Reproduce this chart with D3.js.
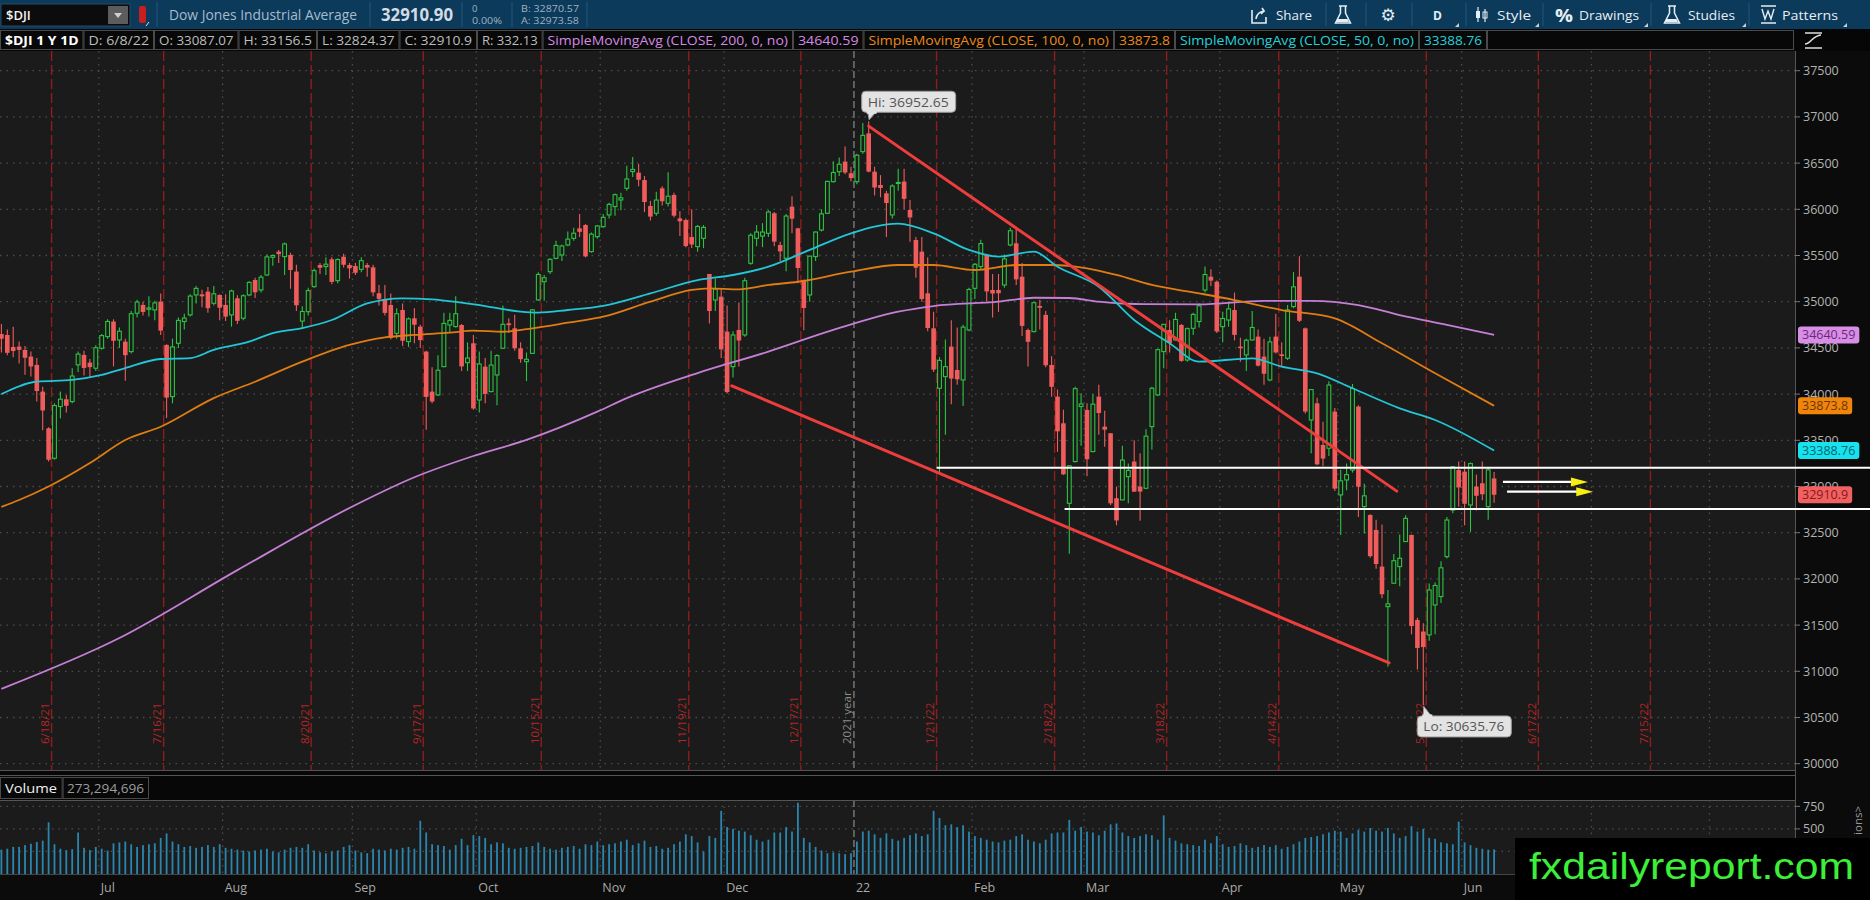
<!DOCTYPE html>
<html>
<head>
<meta charset="utf-8">
<script src="https://cdn.jsdelivr.net/npm/d3@7"></script>
<style>
html, body { margin: 0; padding: 0; background: #0b0b0b; overflow: hidden; }
svg { display: block; font-family: "Open Sans", "DejaVu Sans", sans-serif; }
</style>
</head>
<body>
<svg id="chart" width="1870" height="900"></svg>
<script>
// $DJI daily candles, 6/8/21 .. 6/8/22  [open, high, low, close]
const candles = [
  [34650,34760,34450,34599],[34640,34700,34420,34447],[34510,34730,34400,34466],[34514,34570,34330,34479],
  [34478,34520,34210,34393],[34406,34460,34190,34299],[34316,34390,33920,34033],[34027,34080,33610,33823],
  [33630,33640,33271,33290],[33306,33900,33290,33876],[33865,34027,33738,33945],[33944,33990,33800,33874],
  [33919,34280,33900,34196],[34316,34460,34240,34433],[34424,34470,34200,34283],[34341,34380,34180,34292],
  [34280,34530,34250,34502],
  [34496,34650,34480,34633],[34622,34810,34600,34786],[34785,34810,34300,34577],[34586,34720,34500,34681],
  [34568,34600,34145,34421],[34460,34900,34440,34870],[34875,35020,34830,34996],[34965,35000,34850,34889],
  [34918,35060,34840,34933],[34911,35010,34800,34987],[35001,35090,34640,34687],[34532,34540,33741,33962],
  [33973,34600,33900,34511],[34550,34830,34500,34798],[34785,34870,34700,34823],[34857,35080,34840,35061],
  [35073,35170,34980,35144],[35080,35130,34940,35058],[35109,35160,34880,34930],[34983,35170,34960,35085],
  [35073,35080,34800,34935],
  [34965,35080,34790,34838],[34857,35130,34730,35116],[35037,35070,34760,34793],[34821,35080,34800,35064],
  [35073,35220,35060,35209],[35235,35260,35040,35102],[35127,35290,35100,35265],[35289,35510,35280,35485],
  [35481,35510,35390,35500],[35542,35560,35420,35515],[35488,35640,35290,35625],[35506,35530,35140,35343],
  [35326,35400,34900,34961],[34790,34950,34710,34894],[34892,35150,34850,35120],[35163,35360,35150,35336],
  [35397,35420,35300,35367],[35380,35480,35290,35406],[35459,35480,35190,35214],[35228,35470,35200,35456],
  [35487,35520,35370,35400],[35397,35420,35250,35361],
  [35386,35420,35290,35313],[35350,35480,35320,35444],[35397,35420,35270,35369],[35372,35400,35060,35101],
  [35091,35180,34960,35031],[35019,35180,34850,34879],[34964,35090,34590,34608],[34658,34930,34600,34870],
  [34910,34980,34520,34577],[34568,34830,34510,34814],[34820,34930,34550,34751],[34730,34750,34500,34584],
  [34460,34470,33613,33970],[34027,34290,33900,33920],[33991,34420,33980,34258],[34297,34880,34290,34765],
  [34748,34880,34660,34798],[34730,35060,34720,34870],[34748,34760,34250,34300],[34340,34560,34250,34390],
  [34550,34640,33830,33844],
  [33936,34460,33800,34326],[34297,34390,33900,34002],[34027,34470,34020,34314],[34207,34430,33880,34417],
  [34496,34960,34490,34755],[34766,34820,34660,34746],[34712,34860,34470,34496],[34496,34560,34340,34378],
  [34351,34450,34140,34377],[34441,34920,34440,34912],[35019,35320,35010,35295],[35217,35290,35010,35259],
  [35325,35470,35300,35458],[35469,35660,35460,35609],[35506,35620,35440,35603],[35614,35760,35600,35677],
  [35686,35800,35660,35741],[35794,35950,35700,35756],[35830,35840,35480,35490],[35542,35750,35530,35731],
  [35704,35830,35680,35820],
  [35812,35950,35800,35913],[35939,36070,35900,36053],[36029,36170,35930,36158],[36101,36180,35990,36124],
  [36227,36470,36200,36328],[36408,36565,36350,36432],[36397,36490,36250,36320],[36317,36360,35970,36079],
  [36036,36090,35880,35921],[35957,36190,35930,36100],[36227,36250,36040,36087],[36065,36400,36030,36142],
  [36155,36180,35910,35931],[35902,35980,35710,35870],[35884,35900,35590,35602],[35700,36000,35580,35619],
  [35596,35830,35540,35814],[35686,35830,35580,35804],[35300,35300,34765,34899],[35019,35250,34900,35136],
  [35055,35140,34390,34484],
  [34676,34960,34006,34022],[34297,34680,34180,34640],[34694,34990,34300,34580],[34640,35260,34620,35227],
  [35416,35740,35400,35719],[35686,35830,35600,35754],[35710,35850,35590,35754],[35740,35990,35700,35971],
  [35957,35970,35600,35650],[35614,35650,35440,35545],[35470,35950,35330,35927],[36029,36140,35740,35898],
  [35794,35800,35200,35365],[35235,35240,34691,34932],[35073,35500,35000,35493],[35488,35760,35440,35754],
  [35776,36000,35760,35951],[35957,36310,35950,36302],[36299,36520,36290,36398],[36407,36560,36360,36488],
  [36516,36680,36380,36398],[36390,36460,36300,36338],
  [36299,36600,36270,36585],[36624,36934,36600,36800],[36822,36952.65,36400,36408],[36407,36460,36150,36236],
  [36263,36370,36130,36231],[36173,36200,35700,36068],[35939,36270,35900,36252],[36281,36440,36200,36290],
  [36300,36440,36000,36113],[35993,36100,35650,35912],[35668,35700,35260,35368],[35542,35700,35000,35029],
  [35091,35480,34680,34715],[34712,34890,34240,34265],[34063,34400,33150,34365],[34189,34590,33560,34297],
  [34514,34800,33890,34168],[34261,34720,34100,34160],[34153,34750,33870,34725],[34694,35150,34680,35132],
  [35145,35420,35030,35405],[35380,35670,35350,35629],[35506,35520,35000,35111],[35127,35300,34830,35089],
  [35127,35300,34890,35091],[35181,35510,35150,35463],[35614,35800,35600,35768],[35632,35810,35180,35242],
  [35271,35420,34630,34738],[34694,34710,34300,34566],[34676,35000,34670,34989],[34954,35020,34700,34934],
  [34857,34900,34290,34312],[34315,34410,33970,34079],[33973,34050,33375,33597],[33684,33830,33125,33132],
  [32818,33230,32272,33224],[33270,34080,33260,34059],[33865,34010,33440,33893],
  [33829,33900,33110,33295],[33378,34000,33370,33891],[33973,34100,33560,33795],[33648,33820,33430,33615],
  [33576,33580,32800,32818],[32873,33000,32580,32633],[32855,33440,32850,33286],[33107,33250,32820,33174],
  [33270,33500,32940,32944],[32999,33360,32630,32945],[32981,33620,32970,33545],[33648,34080,33400,34063],
  [33991,34490,33980,34481],[34460,34760,34280,34755],[34694,34800,34450,34553],[34586,34880,34580,34808],
  [34748,34760,34350,34359],[34369,34720,34350,34708],[34712,34880,34640,34862],[34785,34980,34720,34956],
  [35127,35380,35100,35294],[35271,35350,35170,35228],[35217,35230,34660,34678],
  [34730,34890,34560,34818],[34802,35000,34730,34922],[34910,35100,34580,34641],[34514,34610,34350,34497],
  [34424,34600,34250,34583],[34586,34900,34580,34721],[34622,34700,34300,34308],[34406,34600,34100,34220],
  [34153,34620,34140,34565],[34622,34870,34440,34451],[34430,34560,34300,34412],[34388,34965,34370,34911],
  [34947,35320,34930,35161],[35271,35492,34780,34793],[34712,34720,33790,33811],[33720,34050,33360,34049],
  [33900,33960,33230,33240],[33450,33700,33220,33302],[33414,34140,33330,34098],[33811,33850,32950,32977],
  [32909,33180,32474,33061],[33071,33250,32960,33129],[33179,34110,33150,34061],[33865,33880,32670,32998],
  [32783,33030,32490,32899],[32692,32700,32230,32246],[32530,32640,32110,32161],[32133,32590,31790,31834],
  [31700,31880,31050,31730],[31953,32270,31950,32197],[32133,32480,31920,32223],[32404,32690,32400,32655],
  [32476,32480,31400,31490],[31556,31580,31020,31253],[31430,31520,30635.76,31262],[31394,31950,31330,31880],
  [31718,31960,31400,31929],[31809,32190,31740,32120],[32241,32670,32220,32637],[32746,33220,32710,33213],
  [33179,33270,32780,32990],
  [33161,33270,32580,32813],[32800,33260,32510,33248],[33000,33130,32740,32900],[33035,33270,32850,32916],
  [32782,33200,32640,33180],[33087.07,33156.5,32824.37,32910.9]
];

// daily volume, millions
const volumes = [
  270,280,300,300,320,335,355,370,573,330,280,265,275,460,290,265,300,
  280,260,340,350,360,330,300,320,330,340,400,450,360,330,300,310,290,300,320,300,330,
  290,280,270,260,250,260,270,280,250,240,270,290,300,290,330,260,240,230,250,260,300,320,
  260,240,230,280,270,260,280,270,290,300,280,590,460,330,320,310,270,320,390,320,430,
  420,400,330,350,340,290,280,290,300,310,350,300,280,270,290,300,310,280,330,320,360,
  320,330,340,360,380,320,340,370,300,310,280,290,330,360,440,420,350,250,420,400,700,
  520,500,480,470,430,380,360,380,460,460,520,470,790,400,350,300,260,230,240,230,220,230,
  360,470,480,440,400,450,390,370,400,430,450,420,440,700,620,540,550,520,540,470,
  420,400,380,360,350,370,380,420,440,380,360,340,380,450,460,460,600,480,520,
  470,460,430,480,550,560,460,420,400,420,440,430,380,650,400,370,340,330,320,310,380,340,420,
  330,300,310,340,320,290,300,320,300,320,280,300,330,360,400,410,420,440,460,480,
  470,400,450,490,470,510,480,470,510,450,400,420,530,470,500,400,390,350,340,330,580,
  350,320,290,280,270,273
];

// moving averages  [bar, value]
const sma200 = [[0,30810],[20,31360],[40,32095],[60,32800],[70,33100],[80,33330],[89,33504],[101,33810],
  [106,33957],[118,34228],[130,34460],[141,34694],[152,34892],[158,34953],[169,35000],[175,35043],[181,35040],
  [186,35000],[192,34975],[203,34972],[214,35010],[222,35010],[230,34964],[237,34856],[245,34750],[253,34640.59]];
const sma100 = [[0,32780],[3,32854],[8,33000],[15,33254],[21,33503],[27,33647],[36,33957],[43,34134],[51,34351],
  [59,34532],[65,34614],[70,34640],[76,34665],[80,34686],[85,34675],[90,34712],[96,34773],[102,34838],[110,35000],
  [117,35127],[120,35145],[125,35134],[130,35181],[135,35216],[144,35325],[152,35397],[158,35397],[165,35343],
  [172,35397],[178,35397],[184,35361],[189,35289],[195,35181],[203,35090],[209,35018],[217,34910],[226,34820],
  [234,34550],[243,34225],[253,33873.8]];
const sma50 = [[0,34000],[6,34134],[12,34153],[17,34207],[21,34282],[27,34380],[32,34390],[36,34478],[42,34567],
  [46,34660],[51,34715],[56,34802],[62,34982],[68,35037],[73,35026],[78,34989],[82,34953],[88,34892],[91,34881],
  [96,34910],[102,34955],[110,35090],[118,35234],[124,35289],[130,35379],[137,35560],[144,35740],[152,35845],
  [158,35740],[164,35560],[169,35487],[175,35541],[179,35379],[186,35162],[192,34802],[198,34550],[203,34351],
  [212,34387],[217,34297],[223,34225],[229,34063],[237,33846],[243,33720],[253,33388.76]];

const priceTicks = [30000,30500,31000,31500,32000,32500,33000,33500,34000,34500,35000,35500,36000,36500,37000,37500];
const volTicks = [250,500,750];
const expirations = ["6/18/21","7/16/21","8/20/21","9/17/21","10/15/21","11/19/21","12/17/21","1/21/22",
  "2/18/22","3/18/22","4/14/22","5/20/22","6/17/22","7/15/22"];
const holidays = ["2021-07-05","2021-09-06","2021-11-25","2021-12-24","2022-01-17","2022-02-21","2022-04-15",
  "2022-05-30","2022-07-04"];

// drawings on the chart  [bar, price]
const trendUpper = [[147,36900],[236.5,32950]];
const trendLower = [[123.8,34090],[235.2,31090]];
const levels = [[158.5,33203],[180.2,32756]];
const arrows = [[[254.5,33049],[268.9,33049]],[[255.2,32944],[269.8,32944]]];
const hiMark = [147, 36952.65];
const loMark = [241, 30635.76];

const badges = [
  { v: 34640.59, text: "34640.59", bg: "#d78fe6", fg: "#6e2580" },
  { v: 33873.8,  text: "33873.8",  bg: "#f0850c", fg: "#6e3500" },
  { v: 33388.76, text: "33388.76", bg: "#17e3ee", fg: "#06656d" },
  { v: 32910.9,  text: "32910.9",  bg: "#f06262", fg: "#8a1616" }
];
const studyBoxes = [
  ["$DJI 1 Y 1D", 0, 83.5, "#ffffff", "bold"], ["D: 6/8/22", 83.5, 154, "#bdbdbd"],
  ["O: 33087.07", 154, 238.5, "#bdbdbd"], ["H: 33156.5", 238.5, 317, "#bdbdbd"],
  ["L: 32824.37", 317, 399.5, "#bdbdbd"], ["C: 32910.9", 399.5, 477, "#bdbdbd"],
  ["R: 332.13", 477, 542.6, "#bdbdbd"],
  ["SimpleMovingAvg (CLOSE, 200, 0, no)", 542.6, 793, "#d48ae4"], ["34640.59", 793, 863.5, "#d48ae4"],
  ["SimpleMovingAvg (CLOSE, 100, 0, no)", 863.5, 1114, "#ea8a1c"], ["33873.8", 1114, 1175, "#ea8a1c"],
  ["SimpleMovingAvg (CLOSE, 50, 0, no)", 1175, 1419, "#25d0da"], ["33388.76", 1419, 1487, "#25d0da"],
  ["", 1487, 1794, "#bdbdbd"]
];

const GREEN = "#2cc441", RED = "#f05c5c", PLOT_BG = "#1b1b1b", GRID = "#4d4d4d";
const plotTop = 51, plotBottom = 770, plotRight = 1795, volTop = 800, volBottom = 874;

const svg = d3.select("#chart");
const x = d3.scaleLinear().domain([0, 253]).range([1.4, 1.4 + 5.9 * 253]);
const y = d3.scaleLinear().domain([30000, 37500]).range([763.7, 70.7]);
const yv = d3.scaleLinear().domain([0, 820]).range([volBottom, volTop]);
const step = x(1) - x(0);
const lastBar = candles.length - 1;

function tradingDays(startIso, n) {
  const out = [];
  const d = new Date(startIso + "T00:00:00Z");
  while (out.length < n) {
    const iso = d.toISOString().slice(0, 10), wd = d.getUTCDay();
    if (wd !== 0 && wd !== 6 && holidays.indexOf(iso) < 0) out.push(new Date(d));
    d.setUTCDate(d.getUTCDate() + 1);
  }
  return out;
}
const days = tradingDays("2021-06-08", 306);
const isoOf = d => d.toISOString().slice(0, 10);
function barOf(mdy) {
  const p = mdy.split("/");
  const iso = "20" + p[2] + "-" + p[0].padStart(2, "0") + "-" + p[1].padStart(2, "0");
  return days.findIndex(d => isoOf(d) === iso);
}
const monthStarts = days.map((d, i) => i).filter(i => i > 0 && days[i].getUTCMonth() !== days[i - 1].getUTCMonth());

function label(g, s, x0, y0, o) {
  o = o || {};
  const t = g.append("text").attr("x", x0).attr("y", y0).text(s)
    .attr("font-size", o.size || 13).attr("fill", o.fill || "#bbb");
  if (o.weight) t.attr("font-weight", o.weight);
  if (o.len) t.attr("textLength", o.len).attr("lengthAdjust", "spacingAndGlyphs");
  if (o.anchor) t.attr("text-anchor", o.anchor);
  if (o.family) t.attr("font-family", o.family);
  return t;
}

const defs = svg.append("defs");
defs.append("clipPath").attr("id", "clipPlot").append("rect")
  .attr("x", 0).attr("y", plotTop).attr("width", plotRight).attr("height", plotBottom - plotTop);
defs.append("clipPath").attr("id", "clipVol").append("rect")
  .attr("x", 0).attr("y", volTop).attr("width", plotRight).attr("height", volBottom - volTop);

// backgrounds
svg.append("rect").attr("width", 1870).attr("height", 900).attr("fill", "#0b0b0b");
svg.append("rect").attr("width", 1870).attr("height", 29).attr("fill", "#0b3a5b");
svg.append("rect").attr("y", 29).attr("width", 1870).attr("height", 22).attr("fill", "#060606");
svg.append("rect").attr("y", plotTop).attr("width", plotRight).attr("height", plotBottom - plotTop).attr("fill", PLOT_BG);
svg.append("rect").attr("y", volTop).attr("width", plotRight).attr("height", volBottom - volTop).attr("fill", PLOT_BG);

// ---- header bar
const hd = svg.append("g");
hd.append("rect").attr("x", 1).attr("y", 4).attr("width", 129).attr("height", 22).attr("fill", "#0c0c0c").attr("stroke", "#264b68");
label(hd, "$DJI", 6, 20, { size: 13, fill: "#f2f2f2", weight: 600 });
hd.append("rect").attr("x", 108).attr("y", 6).attr("width", 20).attr("height", 18).attr("fill", "#5c5c5c");
hd.append("path").attr("d", "M114,13 L122,13 L118,18 Z").attr("fill", "#cfcfcf");
hd.append("rect").attr("x", 139).attr("y", 6).attr("width", 7).attr("height", 17).attr("rx", 2).attr("fill", "#c81e1e");
hd.append("path").attr("d", "M146,26 L149,22").attr("stroke", "#ddd").attr("stroke-width", 1);
[157, 370, 462, 512, 587].forEach(sx => hd.append("line").attr("x1", sx).attr("x2", sx).attr("y1", 2).attr("y2", 27).attr("stroke", "#24557a"));
label(hd, "Dow Jones Industrial Average", 169, 20, { size: 14, fill: "#a6bccd", len: 188 });
label(hd, "32910.90", 381, 21, { size: 17, fill: "#d3dbe3", weight: "bold", len: 72 });
label(hd, "0", 472, 12, { size: 9.5, fill: "#9fb2c2" });
label(hd, "0.00%", 472, 24, { size: 9.5, fill: "#9fb2c2", len: 30 });
label(hd, "B: 32870.57", 521, 12, { size: 9.5, fill: "#9fb2c2", len: 58 });
label(hd, "A: 32973.58", 521, 24, { size: 9.5, fill: "#9fb2c2", len: 58 });

const hw = "#e6edf3";
function caret(g, cx) { g.append("path").attr("d", `M${cx},27 L${cx + 4},27 L${cx + 4},23 Z`).attr("fill", "#c8d2da"); }
[1326, 1366, 1412, 1466, 1543, 1651, 1749].forEach(sx => hd.append("line").attr("x1", sx).attr("x2", sx).attr("y1", 3).attr("y2", 26).attr("stroke", "#24557a"));
hd.append("path").attr("d", "M1252,10 L1252,23 L1266,23 L1266,17 M1256,19 Q1257,12 1264,11 L1262,8 M1264,11 L1261,14")
  .attr("fill", "none").attr("stroke", hw).attr("stroke-width", 1.6);
label(hd, "Share", 1276, 20, { size: 13.5, fill: hw, len: 36 });
function flask(g, fx) {
  g.append("path").attr("d", `M${fx},6 h8 M${fx + 1.5},6 v7 l-5,10 h15 l-5,-10 v-7`)
    .attr("fill", "none").attr("stroke", hw).attr("stroke-width", 1.5);
  g.append("path").attr("d", `M${fx - 1.5},19 l-1.5,3 h13 l-1.5,-3 Z`).attr("fill", hw);
}
flask(hd, 1339);
label(hd, "\u2699", 1388, 21, { size: 17, fill: hw, anchor: "middle", family: "DejaVu Sans" });
label(hd, "D", 1433, 20, { size: 12, fill: hw, weight: "bold" });
caret(hd, 1455);
hd.append("path").attr("d", "M1478,7 v15 M1485,9 v13").attr("stroke", hw).attr("stroke-width", 1.2);
hd.append("rect").attr("x", 1476).attr("y", 11).attr("width", 4).attr("height", 7).attr("fill", hw);
hd.append("rect").attr("x", 1483).attr("y", 12).attr("width", 4).attr("height", 6).attr("fill", "none").attr("stroke", hw);
label(hd, "Style", 1497, 20, { size: 13.5, fill: hw, len: 34 });
caret(hd, 1535);
label(hd, "%", 1555, 22, { size: 18, fill: hw, weight: "bold", len: 18 });
label(hd, "Drawings", 1579, 20, { size: 13.5, fill: hw, len: 60 });
caret(hd, 1644);
flask(hd, 1668);
label(hd, "Studies", 1688, 20, { size: 13.5, fill: hw, len: 47 });
caret(hd, 1742);
hd.append("path").attr("d", "M1761,6 h15 M1762,9 l3,10 l3,-8 l3,8 l3,-10 M1761,23 h15").attr("fill", "none").attr("stroke", hw).attr("stroke-width", 1.4);
label(hd, "Patterns", 1782, 20, { size: 13.5, fill: hw, len: 56 });
caret(hd, 1843);

// ---- study row
const sr = svg.append("g");
studyBoxes.forEach(b => {
  sr.append("rect").attr("x", b[1] + 0.5).attr("y", 30.5).attr("width", b[2] - b[1] - 1).attr("height", 19)
    .attr("fill", "#080808").attr("stroke", "#4a4a4a");
  if (b[0]) label(sr, b[0], b[1] + 5, 45, { size: 13, fill: b[3], weight: b[4], len: b[2] - b[1] - 10 });
});
sr.append("path").attr("d", "M1805,33 h17 M1805,44 C1811,44 1812,36 1821,35 M1805,48 h17")
  .attr("fill", "none").attr("stroke", "#e0e0e0").attr("stroke-width", 1.5);

// ---- grid
const grid = svg.append("g");
grid.selectAll("line.h").data(priceTicks).join("line")
  .attr("x1", 0).attr("x2", plotRight).attr("y1", d => y(d)).attr("y2", d => y(d))
  .attr("stroke", GRID).attr("stroke-width", 1.3).attr("stroke-dasharray", "1.5 5");
grid.selectAll("line.hv").data(volTicks).join("line")
  .attr("x1", 0).attr("x2", plotRight).attr("y1", d => yv(d)).attr("y2", d => yv(d))
  .attr("stroke", GRID).attr("stroke-width", 1.3).attr("stroke-dasharray", "1.5 5");
const monthGrid = monthStarts.filter(i => days[i].getUTCMonth() !== 0);
[[plotTop, plotBottom], [volTop, volBottom]].forEach(r => {
  grid.selectAll(null).data(monthGrid).join("line")
    .attr("x1", i => x(i) - step / 2).attr("x2", i => x(i) - step / 2)
    .attr("y1", r[0]).attr("y2", r[1])
    .attr("stroke", GRID).attr("stroke-width", 1.3).attr("stroke-dasharray", "1.5 5");
});

// year separator
const yearBar = monthStarts.find(i => days[i].getUTCMonth() === 0);
[[plotTop, plotBottom], [volTop, volBottom]].forEach(r => {
  grid.append("line").attr("x1", x(yearBar) - step / 2).attr("x2", x(yearBar) - step / 2)
    .attr("y1", r[0]).attr("y2", r[1]).attr("stroke", "#8a8a8a").attr("stroke-width", 1.2).attr("stroke-dasharray", "7 3");
});
grid.append("text").attr("transform", `translate(${x(yearBar) - step / 2 - 2.5},744) rotate(-90)`)
  .attr("font-size", 11.5).attr("fill", "#8c8c8c").text((days[yearBar].getUTCFullYear() - 1) + " year");

// option expirations
const exp = svg.append("g");
expirations.forEach(e => {
  const b = barOf(e), ex = x(b) + step / 2;
  exp.append("line").attr("x1", ex).attr("x2", ex).attr("y1", plotTop).attr("y2", plotBottom)
    .attr("stroke", "#8e1d1d").attr("stroke-width", 1.4).attr("stroke-dasharray", "10 4");
  exp.append("text").attr("transform", `translate(${ex - 2.5},744) rotate(-90)`)
    .attr("font-size", 11.5).attr("fill", "#b52525").text(e);
});

// ---- candles
const cg = svg.append("g").attr("clip-path", "url(#clipPlot)");
const up = d => d[3] >= d[0];
cg.selectAll("line.wick").data(candles).join("line")
  .attr("x1", (d, i) => x(i)).attr("x2", (d, i) => x(i))
  .attr("y1", d => y(d[1])).attr("y2", d => y(d[2]))
  .attr("stroke", d => up(d) ? GREEN : RED).attr("stroke-width", 1.1);
cg.selectAll("rect.body").data(candles).join("rect")
  .attr("x", (d, i) => x(i) - (up(d) ? 1.9 : 2.3))
  .attr("y", d => y(Math.max(d[0], d[3])))
  .attr("width", d => up(d) ? 3.8 : 4.6)
  .attr("height", d => Math.max(1, Math.abs(y(d[0]) - y(d[3]))))
  .attr("fill", d => up(d) ? PLOT_BG : RED)
  .attr("stroke", d => up(d) ? GREEN : "none").attr("stroke-width", 1.1);

// ---- moving averages
const smaLine = d3.line().x(d => x(d[0])).y(d => y(d[1])).curve(d3.curveMonotoneX);
[[sma200, "#c57fd6"], [sma100, "#e07c12"], [sma50, "#22c6d6"]].forEach(s => {
  cg.append("path").datum(s[0]).attr("d", smaLine).attr("fill", "none").attr("stroke", s[1]).attr("stroke-width", 1.8);
});

// ---- right price axis
const ax = svg.append("g");
ax.append("rect").attr("x", plotRight).attr("y", plotTop).attr("width", 1870 - plotRight).attr("height", 900 - plotTop).attr("fill", "#0b0b0b");
ax.append("line").attr("x1", plotRight + 0.5).attr("x2", plotRight + 0.5).attr("y1", plotTop).attr("y2", volBottom).attr("stroke", "#555");
ax.selectAll("line.t").data(priceTicks).join("line")
  .attr("x1", plotRight).attr("x2", plotRight + 5).attr("y1", d => y(d)).attr("y2", d => y(d)).attr("stroke", "#777");
ax.selectAll("text.t").data(priceTicks).join("text")
  .attr("x", 1803).attr("y", d => y(d)).attr("dy", "0.36em")
  .attr("font-size", 12.5).attr("fill", "#b3b3b3").text(d3.format("d"));
ax.selectAll("line.tv").data(volTicks).join("line")
  .attr("x1", plotRight).attr("x2", plotRight + 5).attr("y1", d => yv(d)).attr("y2", d => yv(d)).attr("stroke", "#777");
ax.selectAll("text.tv").data(volTicks).join("text")
  .attr("x", 1803).attr("y", d => yv(d)).attr("dy", "0.36em")
  .attr("font-size", 12.5).attr("fill", "#b3b3b3").text(d => d);
ax.append("text").attr("transform", "translate(1862,806) rotate(-90)").attr("text-anchor", "end")
  .attr("font-size", 11.5).attr("fill", "#9a9a9a").text("ions>");
badges.forEach(b => {
  const bgx = ax.append("g");
  const t = label(bgx, b.text, 1802, y(b.v), { size: 12.5, fill: b.fg }).attr("dy", "0.36em");
  const w = t.node().getComputedTextLength();
  bgx.insert("rect", "text").attr("x", 1798).attr("y", y(b.v) - 8.5).attr("width", w + 8).attr("height", 17)
    .attr("rx", 3).attr("fill", b.bg);
});

// ---- drawings
const dr = svg.append("g");
const pt = d => [x(d[0]), y(d[1])];
[trendUpper, trendLower].forEach(t => {
  dr.append("line").attr("x1", pt(t[0])[0]).attr("y1", pt(t[0])[1]).attr("x2", pt(t[1])[0]).attr("y2", pt(t[1])[1])
    .attr("stroke", "#ee3d3d").attr("stroke-width", 3).attr("stroke-linecap", "round");
});
levels.forEach(l => {
  dr.append("line").attr("x1", x(l[0])).attr("x2", 1870).attr("y1", y(l[1])).attr("y2", y(l[1]))
    .attr("stroke", "#ffffff").attr("stroke-width", 2);
});
arrows.forEach(a => {
  const x0 = x(a[0][0]), x1 = x(a[1][0]), yy = y(a[0][1]);
  dr.append("line").attr("x1", x0).attr("x2", x1 - 16).attr("y1", yy).attr("y2", yy).attr("stroke", "#fff").attr("stroke-width", 2.2);
  dr.append("path").attr("d", `M${x1 - 17},${yy - 4.5} L${x1},${yy} L${x1 - 17},${yy + 4.5} Z`).attr("fill", "#f7ef14");
});

// hi / lo callouts
function callout(mark, text, dx, dy) {
  const px = x(mark[0]), py = y(mark[1]);
  const g = svg.append("g");
  const bx = px + dx, by = py + dy, bw = 94, bh = 21;
  const tailY = dy < 0 ? by + bh : by;
  g.append("path").attr("d", `M${bx + 6},${tailY} L${px + 0.5},${py + (dy < 0 ? -1.5 : 1.5)} L${bx + 14},${tailY} Z`)
    .attr("fill", "#e3e3e3").attr("stroke", "#9a9a9a");
  g.append("rect").attr("x", bx).attr("y", by).attr("width", bw).attr("height", bh).attr("rx", 4)
    .attr("fill", "#e3e3e3").attr("stroke", "#9a9a9a");
  g.append("rect").attr("x", bx + 5).attr("y", tailY - 1.5).attr("width", 10).attr("height", 3).attr("fill", "#e3e3e3");
  label(g, text, bx + 6, by + 15.5, { size: 13.5, fill: "#555", len: bw - 13 });
}
callout(hiMark, "Hi: 36952.65", -7, -30);
callout(loMark, "Lo: 30635.76", -6, 11);

// ---- volume pane
const vh = svg.append("g");
vh.append("rect").attr("y", plotBottom).attr("width", plotRight).attr("height", volTop - plotBottom).attr("fill", "#070707");
vh.append("line").attr("x1", 0).attr("x2", plotRight).attr("y1", plotBottom + 0.5).attr("y2", plotBottom + 0.5).attr("stroke", "#555");
vh.append("line").attr("x1", 0).attr("x2", plotRight).attr("y1", 775.5).attr("y2", 775.5).attr("stroke", "#555");
vh.append("line").attr("x1", 0).attr("x2", plotRight).attr("y1", volTop + 0.5).attr("y2", volTop + 0.5).attr("stroke", "#555");
vh.append("line").attr("x1", 0).attr("x2", plotRight).attr("y1", volBottom + 0.5).attr("y2", volBottom + 0.5).attr("stroke", "#444");
[[0, 62.6], [62.6, 149]].forEach(b => vh.append("rect").attr("x", b[0] + 0.5).attr("y", 777.5).attr("width", b[1] - b[0] - 1)
  .attr("height", 21).attr("fill", "#080808").attr("stroke", "#4a4a4a"));
label(vh, "Volume", 5, 793, { size: 13, fill: "#f0f0f0", len: 52 });
label(vh, "273,294,696", 67, 793, { size: 13, fill: "#9c9c9c", len: 77 });

const vg = svg.append("g").attr("clip-path", "url(#clipVol)");
vg.selectAll("rect").data(volumes).join("rect")
  .attr("x", (d, i) => x(i) - 0.9).attr("width", 1.8)
  .attr("y", d => yv(d)).attr("height", d => yv(0) - yv(d))
  .attr("fill", "#2b86ae");

// month labels (only under the traded bars; later months sit behind the watermark)
const mfmt = d3.utcFormat("%b"), yfmt = d3.utcFormat("%y");
svg.append("g").selectAll("text").data(monthStarts.filter(i => i <= lastBar)).join("text")
  .attr("x", i => x(i) - step / 2 + 2).attr("y", 892)
  .attr("font-size", 12.5).attr("fill", "#a9a9a9")
  .text(i => days[i].getUTCMonth() === 0 ? yfmt(days[i]) : mfmt(days[i]));

// watermark
const wm = svg.append("g");
wm.append("rect").attr("x", 1515).attr("y", 838).attr("width", 355).attr("height", 62).attr("fill", "#000");
label(wm, "fxdailyreport.com", 1529, 879, { size: 37, fill: "#3cf03a", len: 325,
  family: "'Liberation Sans Narrow', 'Liberation Sans', Arial, sans-serif" });
</script>
</body>
</html>
